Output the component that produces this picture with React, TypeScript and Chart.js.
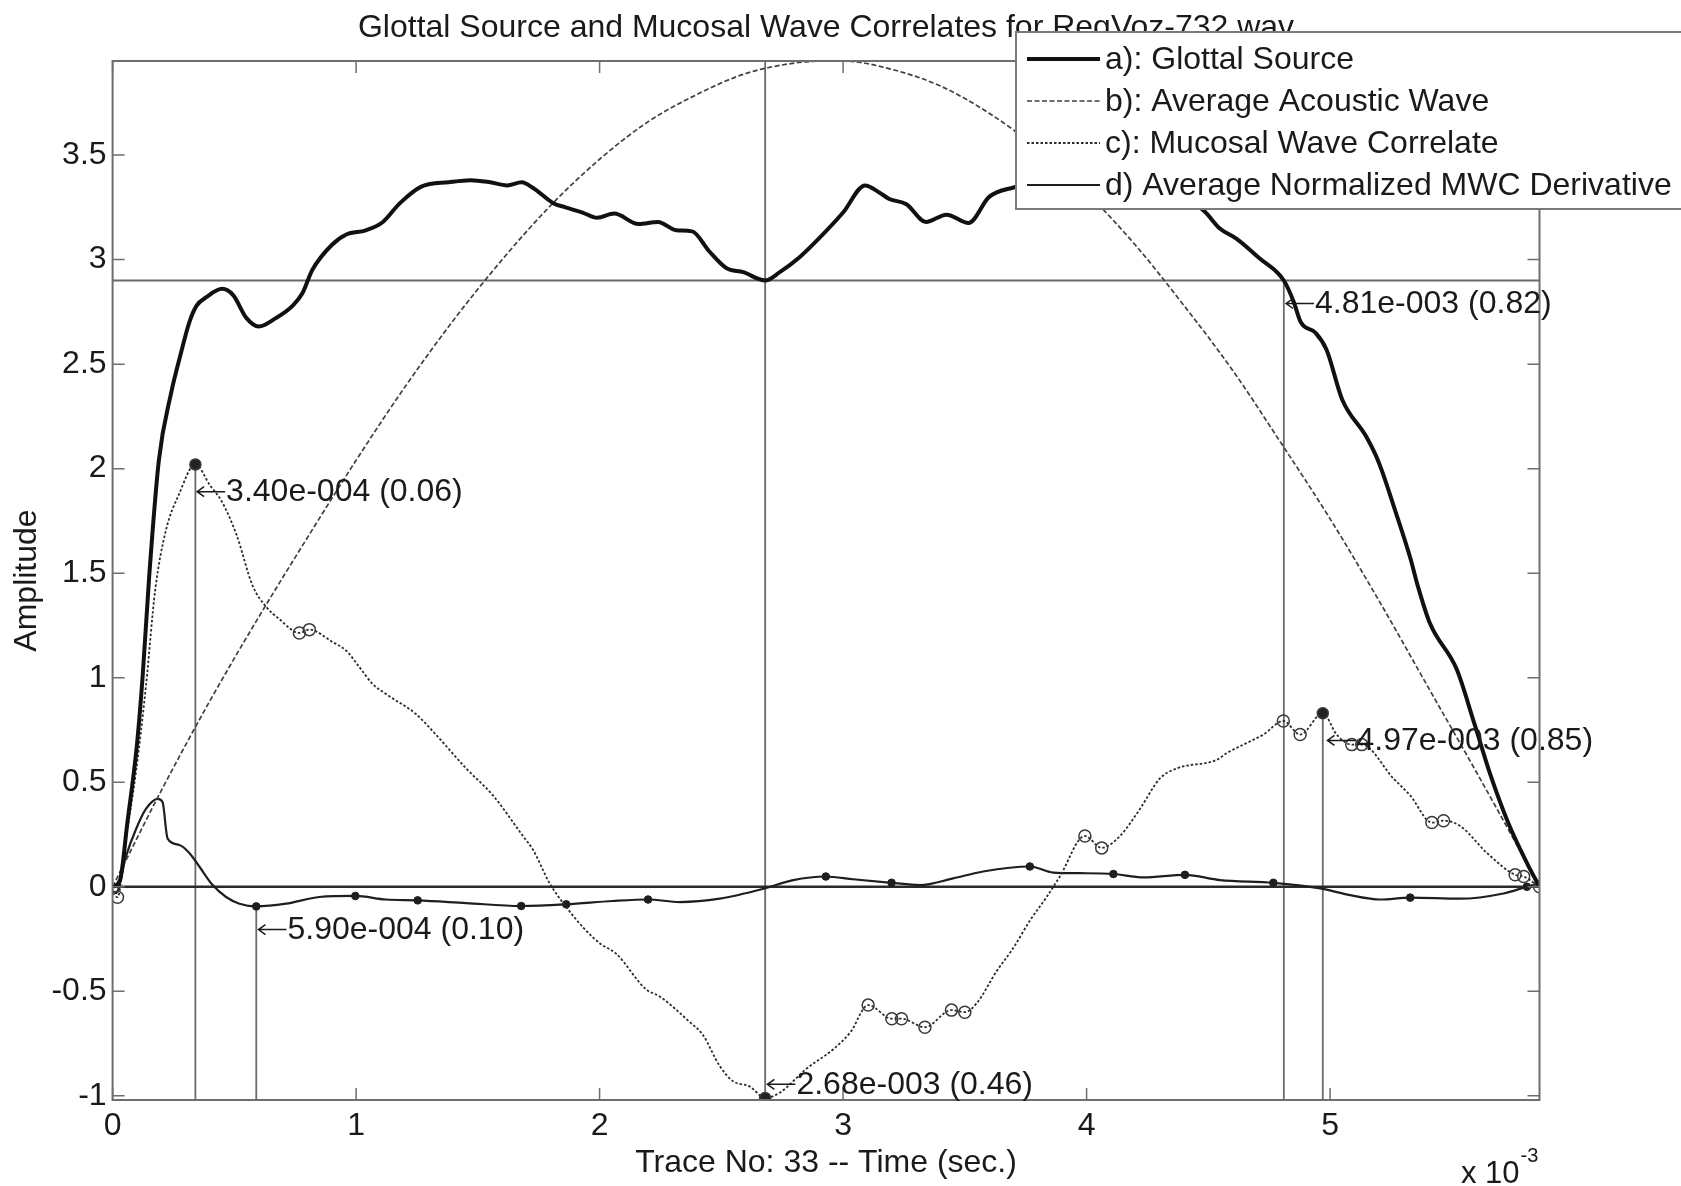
import React, { useEffect, useRef } from "react";
import { Chart, registerables } from "chart.js";

Chart.register(...registerables);

const W = 1681;
const H = 1186;
const FONT = '"Liberation Sans", Arial, Helvetica, sans-serif';

const titleText = "Glottal Source and Mucosal Wave Correlates for RegVoz-732.wav";
const xAxisTitle = "Trace No: 33 -- Time (sec.)";
const yAxisTitle = "Amplitude";
const xExponentBase = "x 10";
const xExponentPower = "-3";

const xTicks = [0, 1, 2, 3, 4, 5];
const xTickLabels = ["0", "1", "2", "3", "4", "5"];
const yTicks = [-1, -0.5, 0, 0.5, 1, 1.5, 2, 2.5, 3, 3.5];
const yTickLabels = ["-1", "-0.5", "0", "0.5", "1", "1.5", "2", "2.5", "3", "3.5"];
const xMin = 0;
const xMax = 5.86;
const yMin = -1.02;
const yMax = 3.95;

const legendLabels = [
  "a): Glottal Source",
  "b): Average Acoustic Wave",
  "c): Mucosal Wave Correlate",
  "d) Average Normalized MWC Derivative",
];

// a) Glottal Source (time axis in units of 10^-3 s)
const glottalX = [0, 0.03, 0.06, 0.10, 0.123, 0.15, 0.19, 0.24, 0.28, 0.315, 0.345, 0.385, 0.45, 0.495, 0.55, 0.60, 0.67, 0.74, 0.78, 0.82, 0.90, 0.96, 1.04, 1.11, 1.18, 1.27, 1.38, 1.47, 1.55, 1.62, 1.68, 1.73, 1.81, 1.86, 1.93, 1.99, 2.06, 2.16, 2.24, 2.315, 2.38, 2.45, 2.52, 2.59, 2.68, 2.74, 2.82, 2.90, 3.0, 3.09, 3.15, 3.19, 3.26, 3.34, 3.425, 3.515, 3.60, 3.70, 3.80, 3.95, 4.10, 4.25, 4.40, 4.485, 4.546, 4.615, 4.71, 4.81, 4.85, 4.88, 4.94, 4.985, 5.05, 5.15, 5.20, 5.27, 5.33, 5.36, 5.41, 5.52, 5.59, 5.66, 5.73, 5.81, 5.86];
const glottalY = [0, 0.03, 0.30, 0.68, 1.0, 1.48, 2.04, 2.36, 2.55, 2.70, 2.78, 2.82, 2.86, 2.83, 2.72, 2.68, 2.72, 2.78, 2.84, 2.95, 3.07, 3.12, 3.14, 3.18, 3.27, 3.35, 3.37, 3.38, 3.37, 3.355, 3.37, 3.34, 3.27, 3.25, 3.225, 3.20, 3.22, 3.17, 3.18, 3.14, 3.135, 3.04, 2.96, 2.94, 2.90, 2.94, 3.01, 3.10, 3.225, 3.355, 3.32, 3.29, 3.265, 3.18, 3.215, 3.175, 3.30, 3.345, 3.37, 3.39, 3.38, 3.35, 3.30, 3.23, 3.15, 3.10, 3.006, 2.90, 2.80, 2.70, 2.65, 2.57, 2.33, 2.15, 2.03, 1.79, 1.57, 1.44, 1.26, 1.04, 0.79, 0.53, 0.31, 0.11, 0.0];

// b) Average Acoustic Wave
const acousticX = [0, 0.2, 0.4, 0.6, 0.8, 1.0, 1.2, 1.4, 1.6, 1.8, 2.0, 2.2, 2.4, 2.6, 2.8, 2.93, 3.0, 3.2, 3.4, 3.6, 3.8, 4.0, 4.2, 4.4, 4.6, 4.8, 5.0, 5.2, 5.4, 5.6, 5.8, 5.86];
const acousticY = [0, 0.46, 0.89, 1.29, 1.67, 2.04, 2.39, 2.71, 3.0, 3.26, 3.48, 3.66, 3.79, 3.89, 3.94, 3.95, 3.95, 3.91, 3.83, 3.70, 3.53, 3.32, 3.07, 2.78, 2.47, 2.12, 1.76, 1.37, 0.96, 0.55, 0.13, 0];

// c) Mucosal Wave Correlate
const mwcX = [0.0, 0.02, 0.055, 0.096, 0.137, 0.175, 0.22, 0.27, 0.34, 0.40, 0.45, 0.51, 0.575, 0.63, 0.685, 0.767, 0.808, 0.904, 0.959, 1.014, 1.068, 1.123, 1.247, 1.315, 1.452, 1.562, 1.685, 1.726, 1.795, 1.863, 1.932, 2.0, 2.068, 2.19, 2.247, 2.37, 2.425, 2.493, 2.548, 2.616, 2.68, 2.74, 2.85, 2.96, 3.03, 3.103, 3.2, 3.24, 3.336, 3.445, 3.5, 3.548, 3.63, 3.7, 3.767, 3.836, 3.89, 3.993, 4.062, 4.137, 4.219, 4.301, 4.37, 4.534, 4.575, 4.658, 4.726, 4.808, 4.877, 4.97, 5.027, 5.089, 5.13, 5.26, 5.329, 5.418, 5.466, 5.534, 5.644, 5.76, 5.795, 5.86];
const mwcY = [-0.03, -0.05, 0.23, 0.55, 0.96, 1.42, 1.71, 1.87, 2.02, 1.92, 1.84, 1.68, 1.44, 1.34, 1.28, 1.214, 1.23, 1.17, 1.13, 1.05, 0.97, 0.922, 0.825, 0.744, 0.566, 0.437, 0.243, 0.178, 0.016, -0.097, -0.194, -0.27, -0.32, -0.49, -0.525, -0.647, -0.71, -0.857, -0.93, -0.955, -1.01, -0.985, -0.87, -0.777, -0.696, -0.566, -0.631, -0.631, -0.672, -0.59, -0.6, -0.558, -0.405, -0.291, -0.162, -0.049, 0.049, 0.243, 0.186, 0.243, 0.372, 0.518, 0.566, 0.607, 0.639, 0.688, 0.728, 0.793, 0.728, 0.83, 0.728, 0.68, 0.68, 0.518, 0.437, 0.307, 0.316, 0.291, 0.162, 0.057, 0.049, 0.0];
const mwcCircleX = [0.02, 0.767, 0.808, 3.103, 3.2, 3.24, 3.336, 3.445, 3.5, 3.993, 4.062, 4.808, 4.877, 5.089, 5.13, 5.418, 5.466, 5.76, 5.795, 5.86];
const mwcFilledX = [0.34, 2.68, 4.97];

// d) Average Normalized MWC Derivative
const derivX = [0.0, 0.014, 0.055, 0.096, 0.137, 0.185, 0.205, 0.226, 0.274, 0.315, 0.356, 0.411, 0.466, 0.521, 0.59, 0.712, 0.849, 0.997, 1.123, 1.253, 1.452, 1.678, 1.863, 2.055, 2.199, 2.329, 2.493, 2.678, 2.795, 2.929, 3.041, 3.199, 3.315, 3.452, 3.575, 3.767, 3.863, 3.973, 4.11, 4.233, 4.404, 4.548, 4.767, 4.959, 5.082, 5.205, 5.329, 5.534, 5.712, 5.808, 5.86];
const derivY = [-0.02, -0.03, 0.146, 0.275, 0.372, 0.42, 0.405, 0.23, 0.20, 0.162, 0.097, 0.008, -0.049, -0.081, -0.094, -0.081, -0.049, -0.044, -0.061, -0.065, -0.078, -0.092, -0.084, -0.068, -0.061, -0.073, -0.057, -0.008, 0.032, 0.049, 0.036, 0.019, 0.008, 0.04, 0.073, 0.097, 0.068, 0.065, 0.061, 0.045, 0.057, 0.032, 0.019, -0.008, -0.04, -0.061, -0.052, -0.057, -0.032, 0.0, 0.016];
const derivMarkX = [0.59, 0.997, 1.253, 1.678, 1.863, 2.199, 2.929, 3.199, 3.767, 4.11, 4.404, 4.767, 5.329, 5.808];

// reference lines
const hLineY = 2.9;
const zeroLineY = 0;
const vLineX = [0.34, 0.59, 2.68, 4.81, 4.97];
const vLineTop = [2.02, -0.094, 3.95, 2.9, 0.83];

// annotations (arrow tip position + text)
const annX = [0.343, 0.595, 2.685, 4.815, 4.985];
const annY = [1.89, -0.205, -0.945, 2.79, 0.70];
const annText = ["3.40e-004 (0.06)", "5.90e-004 (0.10)", "2.68e-003 (0.46)", "4.81e-003 (0.82)", "4.97e-003 (0.85)"];

const pts = (xs: number[], ys: number[]) => xs.map((v, i) => ({ x: v, y: ys[i] }));
const near = (list: number[], v: number) => list.some((u) => Math.abs(u - v) < 1e-6);

const TEXT = "#1a1a1a";
const FS = 32;

const overlayPlugin = {
  id: "overlay",
  afterDatasetsDraw(chart: any) {
    const { ctx, chartArea: a, scales } = chart;
    const x = scales.x;
    const y = scales.y;
    ctx.save();
    // axes box
    ctx.strokeStyle = "#6e6e6e";
    ctx.lineWidth = 2;
    ctx.strokeRect(a.left, a.top, a.right - a.left, a.bottom - a.top);
    // inward tick marks
    ctx.lineWidth = 1.5;
    ctx.beginPath();
    for (const v of xTicks) {
      const px = x.getPixelForValue(v);
      ctx.moveTo(px, a.bottom);
      ctx.lineTo(px, a.bottom - 12);
      ctx.moveTo(px, a.top);
      ctx.lineTo(px, a.top + 12);
    }
    for (const v of yTicks) {
      const py = y.getPixelForValue(v);
      ctx.moveTo(a.left, py);
      ctx.lineTo(a.left + 12, py);
      ctx.moveTo(a.right, py);
      ctx.lineTo(a.right - 12, py);
    }
    ctx.stroke();

    // annotations
    ctx.font = `${FS}px ${FONT}`;
    ctx.textAlign = "left";
    ctx.textBaseline = "middle";
    ctx.fillStyle = TEXT;
    ctx.strokeStyle = TEXT;
    ctx.lineWidth = 1.5;
    annX.forEach((ax, i) => {
      const px = x.getPixelForValue(ax);
      const py = y.getPixelForValue(annY[i]);
      ctx.beginPath();
      ctx.moveTo(px + 1, py);
      ctx.lineTo(px + 29, py);
      ctx.moveTo(px + 8, py - 5);
      ctx.lineTo(px + 1, py);
      ctx.lineTo(px + 8, py + 5);
      ctx.stroke();
      ctx.fillText(annText[i], px + 30, py + 1);
    });
    ctx.restore();
  },
  afterDraw(chart: any) {
    const { ctx, chartArea: a } = chart;
    ctx.save();
    ctx.fillStyle = TEXT;
    // title
    ctx.font = `${FS}px ${FONT}`;
    ctx.textAlign = "center";
    ctx.textBaseline = "middle";
    ctx.fillText(titleText, (a.left + a.right) / 2, 28);
    // x axis title
    ctx.fillText(xAxisTitle, (a.left + a.right) / 2, 1163);
    // y axis title
    ctx.save();
    ctx.translate(27, (a.top + a.bottom) / 2);
    ctx.rotate(-Math.PI / 2);
    ctx.fillText(yAxisTitle, 0, 0);
    ctx.restore();
    // exponent
    ctx.textAlign = "left";
    ctx.font = `31px ${FONT}`;
    ctx.fillText(xExponentBase, 1461, 1174);
    const wBase = ctx.measureText(xExponentBase).width;
    ctx.font = `20px ${FONT}`;
    ctx.fillText(xExponentPower, 1461 + wBase + 1, 1156);

    // legend box
    const lb = { left: 1016, top: 32, right: W + 10, bottom: 209 };
    ctx.fillStyle = "#ffffff";
    ctx.fillRect(lb.left, lb.top, lb.right - lb.left, lb.bottom - lb.top);
    ctx.strokeStyle = "#7a7a7a";
    ctx.lineWidth = 2;
    ctx.strokeRect(lb.left, lb.top, lb.right - lb.left, lb.bottom - lb.top);
    const rows = [60, 102, 144, 186];
    ctx.font = `${FS}px ${FONT}`;
    ctx.textBaseline = "middle";
    ctx.textAlign = "left";
    for (let i = 0; i < 4; i++) {
      const ds = chart.data.datasets[i];
      ctx.save();
      ctx.strokeStyle = ds.borderColor;
      ctx.lineWidth = ds.borderWidth;
      ctx.setLineDash(ds.borderDash || []);
      ctx.beginPath();
      ctx.moveTo(1027, rows[i] - 1);
      ctx.lineTo(1100, rows[i] - 1);
      ctx.stroke();
      ctx.restore();
      ctx.fillStyle = TEXT;
      ctx.fillText(ds.label, 1105, rows[i]);
    }
    ctx.restore();
  },
};

export default function App() {
  const ref = useRef<HTMLCanvasElement>(null);
  useEffect(() => {
    const canvas = ref.current;
    if (!canvas) return;

    const refLine = (data: { x: number; y: number }[], color: string, width: number) => ({
      label: "",
      data,
      borderColor: color,
      borderWidth: width,
      pointRadius: 0,
      tension: 0,
    });

    const datasets: any[] = [
      {
        label: legendLabels[0],
        data: pts(glottalX, glottalY),
        borderColor: "#111111",
        borderWidth: 4,
        pointRadius: 0,
        cubicInterpolationMode: "monotone",
      },
      {
        label: legendLabels[1],
        data: pts(acousticX, acousticY),
        borderColor: "#404040",
        borderWidth: 1.7,
        borderDash: [5, 2.5],
        pointRadius: 0,
        cubicInterpolationMode: "monotone",
      },
      {
        label: legendLabels[2],
        data: pts(mwcX, mwcY),
        borderColor: "#2c2c2c",
        borderWidth: 1.8,
        borderDash: [2.5, 2],
        cubicInterpolationMode: "monotone",
        pointRadius: (c: any) => {
          const p = c.raw;
          if (!p) return 0;
          if (near(mwcFilledX, p.x)) return 5.5;
          if (near(mwcCircleX, p.x)) return 6;
          return 0;
        },
        pointBackgroundColor: (c: any) => {
          const p = c.raw;
          return p && near(mwcFilledX, p.x) ? "#222222" : "rgba(255,255,255,0)";
        },
        pointBorderColor: "#3a3a3a",
        pointBorderWidth: 1.5,
      },
      {
        label: legendLabels[3],
        data: pts(derivX, derivY),
        borderColor: "#1e1e1e",
        borderWidth: 2.2,
        cubicInterpolationMode: "monotone",
        pointRadius: (c: any) => {
          const p = c.raw;
          return p && near(derivMarkX, p.x) ? 3.8 : 0;
        },
        pointBackgroundColor: "#1e1e1e",
        pointBorderColor: "#1e1e1e",
        pointBorderWidth: 1,
      },
      refLine([{ x: xMin, y: zeroLineY }, { x: xMax, y: zeroLineY }], "#2a2a2a", 2.5),
      refLine([{ x: xMin, y: hLineY }, { x: xMax, y: hLineY }], "#6a6a6a", 1.8),
      ...vLineX.map((vx, i) => refLine([{ x: vx, y: yMin }, { x: vx, y: vLineTop[i] }], "#6a6a6a", 1.8)),
    ];

    const tickFont = { family: FONT, size: FS, lineHeight: 1.2 };

    const chart = new Chart(canvas, {
      type: "line",
      data: { datasets },
      plugins: [overlayPlugin],
      options: {
        animation: false,
        responsive: false,
        maintainAspectRatio: false,
        devicePixelRatio: 1,
        events: [],
        layout: { padding: { top: 61, right: W - 1539.5, bottom: 0, left: 0 } },
        plugins: {
          legend: { display: false },
          title: { display: false },
          tooltip: { enabled: false },
        },
        scales: {
          x: {
            type: "linear",
            min: xMin,
            max: xMax,
            grid: { display: false, drawTicks: false },
            border: { display: false },
            afterBuildTicks: (s: any) => {
              s.ticks = xTicks.map((v) => ({ value: v }));
            },
            afterFit: (s: any) => {
              s.height = H - 1100;
            },
            ticks: {
              autoSkip: false,
              maxRotation: 0,
              padding: 7,
              color: TEXT,
              font: tickFont,
              callback: (_v: any, i: number) => xTickLabels[i],
            },
          },
          y: {
            type: "linear",
            min: yMin,
            max: yMax,
            grid: { display: false, drawTicks: false },
            border: { display: false },
            afterBuildTicks: (s: any) => {
              s.ticks = yTicks.map((v) => ({ value: v }));
            },
            afterFit: (s: any) => {
              s.width = 112.6;
            },
            ticks: {
              autoSkip: false,
              padding: 6,
              color: TEXT,
              font: tickFont,
              callback: (_v: any, i: number) => yTickLabels[i],
            },
          },
        },
      } as any,
    });
    return () => chart.destroy();
  }, []);

  return (
    <div style={{ position: "absolute", left: 0, top: 0, width: W, height: H, background: "#ffffff" }}>
      <canvas ref={ref} width={W} height={H} style={{ display: "block", width: W, height: H }} />
    </div>
  );
}
